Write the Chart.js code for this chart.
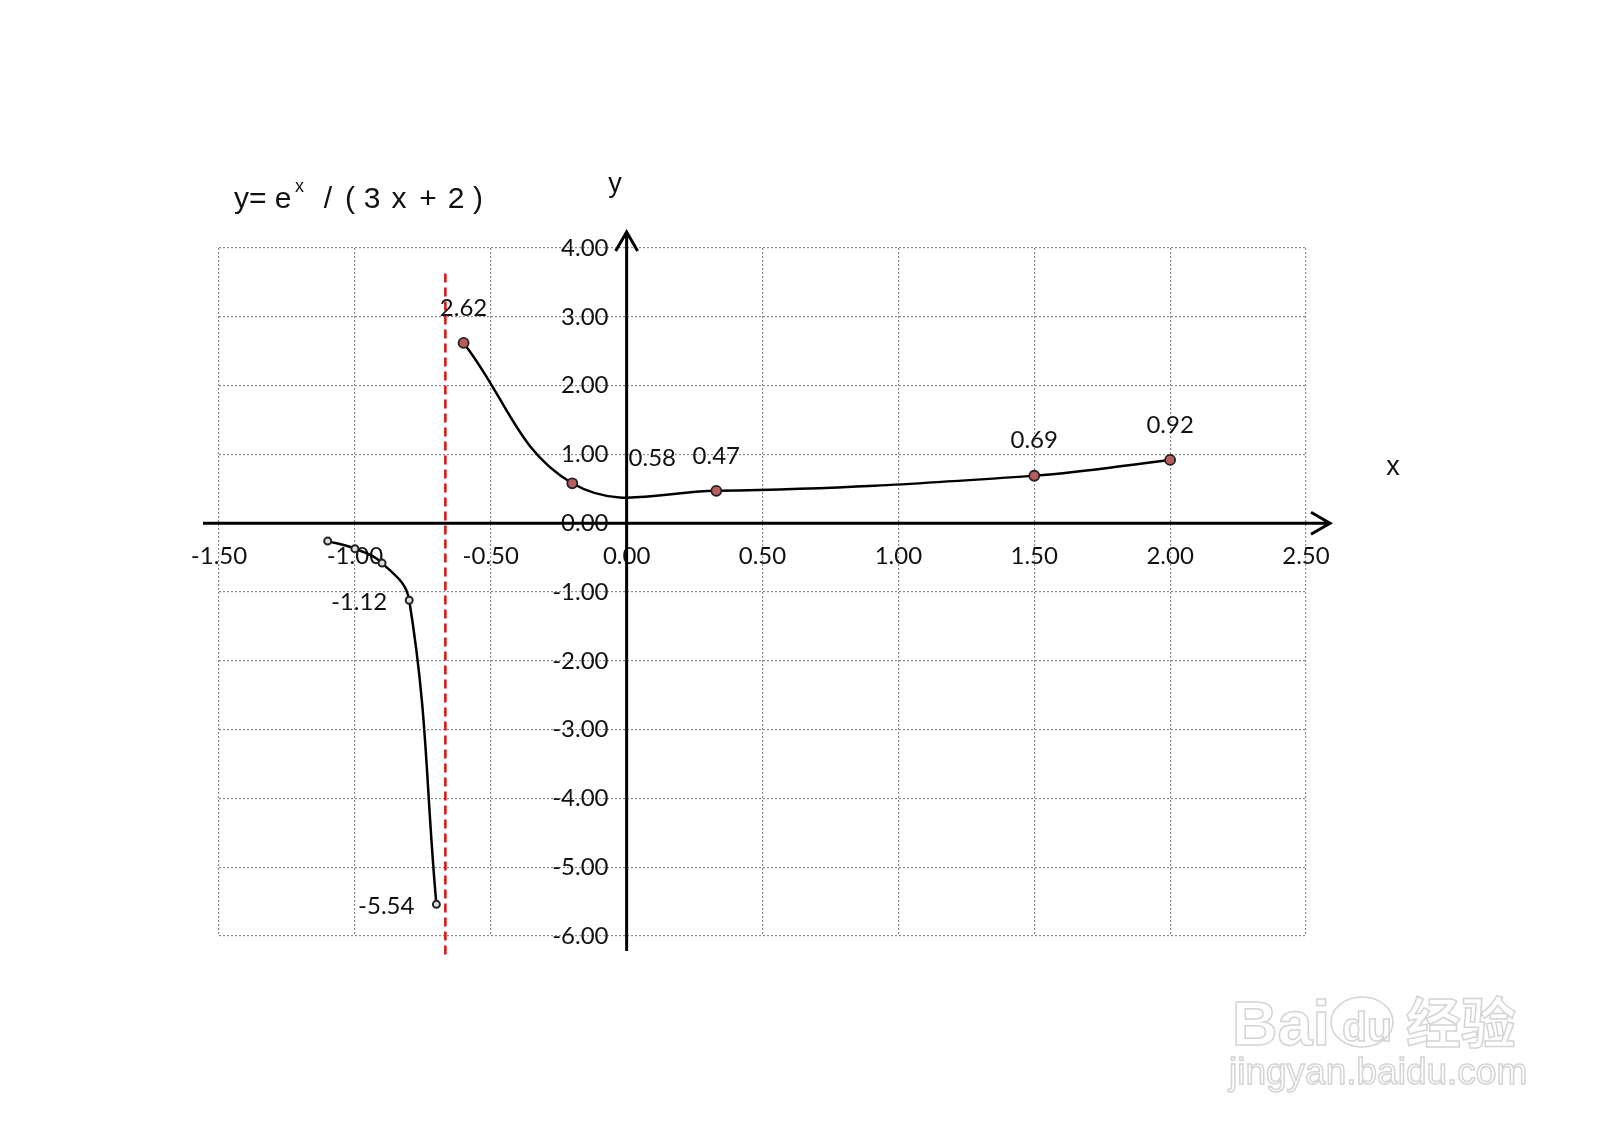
<!DOCTYPE html>
<html>
<head>
<meta charset="utf-8">
<script src="https://cdn.jsdelivr.net/npm/chart.js@4.4.0/dist/chart.umd.min.js"></script>
<style>
  html, body { margin: 0; padding: 0; background: #fff; }
  #wrap { width: 1600px; height: 1127px; }
</style>
</head>
<body>
<div id="wrap"><canvas id="chart"></canvas></div>
<script>
// Datos de la función y = e^x / (3x + 2)
const leftX = [-1.1, -1.0, -0.9, -0.8, -0.7];
const leftY = [-0.26, -0.37, -0.58, -1.12, -5.54];
const rightX = [-0.6, -0.2, 0.33, 1.5, 2.0];
const rightY = [2.62, 0.58, 0.47, 0.69, 0.92];
const asymptoteX = [-0.667, -0.667];
const asymptoteY = [3.63, -6.3];
const leftLabelIdx = [3, 4];
const rightLabelIdx = [0, 1, 2, 3, 4];
const xTicks = [-1.5, -1.0, -0.5, 0, 0.5, 1.0, 1.5, 2.0, 2.5];
const yTicks = [-6, -5, -4, -3, -2, -1, 0, 1, 2, 3, 4];

const toPoints = (xs, ys) => xs.map((x, i) => ({ x: x, y: ys[i] }));
const tickFont = { family: 'Lato', size: 24 };

// ejes con flechas, etiquetas y título
const decorPlugin = {
    id: 'decor',
    afterDatasetsDraw(chart) {
        const ctx = chart.ctx;
        const xs = chart.scales.x, ys = chart.scales.y;
        const x0 = xs.getPixelForValue(0), y0 = ys.getPixelForValue(0);
        const top = chart.chartArea.top, bottom = chart.chartArea.bottom;
        const left = chart.chartArea.left, right = chart.chartArea.right;
        ctx.save();
        ctx.strokeStyle = '#000';
        ctx.lineWidth = 3;
        ctx.beginPath();
        // eje x
        ctx.moveTo(left - 16, y0);
        ctx.lineTo(right + 24, y0);
        ctx.moveTo(right + 5, y0 - 11);
        ctx.lineTo(right + 24, y0);
        ctx.lineTo(right + 5, y0 + 11);
        // eje y
        ctx.moveTo(x0, bottom + 15);
        ctx.lineTo(x0, top - 16);
        ctx.moveTo(x0 - 11, top + 3);
        ctx.lineTo(x0, top - 16);
        ctx.lineTo(x0 + 11, top + 3);
        ctx.stroke();

        // etiquetas de los puntos
        ctx.fillStyle = '#111';
        ctx.font = '24px Lato';
        ctx.textBaseline = 'middle';
        const m0 = chart.getDatasetMeta(0).data;
        ctx.textAlign = 'right';
        leftLabelIdx.forEach(i => {
            const p = m0[i];
            ctx.fillText(leftY[i].toFixed(2), p.x - 22, p.y + 2);
        });
        const m1 = chart.getDatasetMeta(1).data;
        ctx.textAlign = 'center';
        rightLabelIdx.forEach(i => {
            const p = m1[i];
            if (i === 1) {
                ctx.fillText(rightY[i].toFixed(2), p.x + 80, p.y - 25);
            } else {
                ctx.fillText(rightY[i].toFixed(2), p.x, p.y - 35);
            }
        });

        // título y nombres de ejes
        ctx.font = '30px "Liberation Sans"';
        ctx.textAlign = 'left';
        ctx.textBaseline = 'alphabetic';
        ctx.fillText('y= e', 234, 208);
        ctx.font = '18px "Liberation Sans"';
        ctx.fillText('x', 295, 192);
        ctx.font = '30px "Liberation Sans"';
        ctx.textAlign = 'center';
        const parts = ['/', '(', '3', 'x', '+', '2', ')'];
        const partX = [328, 350, 372, 399, 428, 456, 478];
        parts.forEach((t, i) => ctx.fillText(t, partX[i], 208));
        ctx.font = '27px "Liberation Sans"';
        ctx.fillText('y', 615, 192);
        ctx.fillText('x', 1393, 475);

        // marca de agua
        ctx.strokeStyle = '#d4d4d4';
        ctx.lineWidth = 1.5;
        ctx.font = 'bold 63px "Liberation Sans"';
        ctx.textAlign = 'left';
        ctx.strokeText('Bai', 1232, 1045);
        ctx.font = 'bold 41px "Liberation Sans"';
        ctx.strokeText('du', 1342, 1041);
        ctx.font = 'bold 55px "Noto Sans CJK SC"';
        ctx.strokeText('经验', 1406, 1043);
        ctx.font = '37px "Liberation Sans"';
        ctx.strokeText('jingyan.baidu.com', 1229, 1084);
        ctx.beginPath();
        ctx.ellipse(1362, 1022, 31, 25, 0, 0, Math.PI * 2);
        ctx.stroke();
        ctx.restore();
    }
};

new Chart(document.getElementById('chart'), {
    type: 'scatter',
    data: {
        datasets: [
            {
                data: toPoints(leftX, leftY),
                showLine: true,
                borderColor: '#000',
                borderWidth: 2.5,
                tension: 0.4,
                pointRadius: 3.5,
                pointBorderWidth: 2,
                pointBackgroundColor: '#ddd',
                pointBorderColor: '#222'
            },
            {
                data: toPoints(rightX, rightY),
                showLine: true,
                borderColor: '#000',
                borderWidth: 2.5,
                tension: 0.4,
                pointRadius: 5,
                pointBorderWidth: 1.8,
                pointBackgroundColor: '#b85c5c',
                pointBorderColor: '#222'
            },
            {
                data: toPoints(asymptoteX, asymptoteY),
                showLine: true,
                clip: false,
                borderColor: '#e01010',
                borderWidth: 2.5,
                borderDash: [9, 5],
                pointRadius: 0
            }
        ]
    },
    options: {
        responsive: true,
        maintainAspectRatio: false,
        animation: false,
        layout: { padding: { left: 219, right: 294, top: 248, bottom: 191 } },
        plugins: {
            legend: { display: false },
            tooltip: { enabled: false }
        },
        scales: {
            x: {
                type: 'linear',
                position: { y: 0 },
                min: -1.5,
                max: 2.5,
                afterBuildTicks: axis => { axis.ticks = xTicks.map(v => ({ value: v })); },
                grid: { color: '#8a8a8a', lineWidth: 1.2, drawTicks: false },
                border: { display: false, dash: [2, 2] },
                ticks: {
                    font: tickFont,
                    color: '#111',
                    padding: 19,
                    maxRotation: 0,
                    callback: v => Number(v).toFixed(2)
                }
            },
            y: {
                type: 'linear',
                position: { x: 0 },
                min: -6,
                max: 4,
                afterBuildTicks: axis => { axis.ticks = yTicks.map(v => ({ value: v })); },
                grid: { color: '#8a8a8a', lineWidth: 1.2, drawTicks: false },
                border: { display: false, dash: [2, 2] },
                ticks: {
                    font: tickFont,
                    color: '#111',
                    padding: 18,
                    // espacio final para separar la etiqueta del eje
                    callback: v => Number(v).toFixed(2) + '\u2002 '
                }
            }
        }
    },
    plugins: [decorPlugin]
});
</script>
</body>
</html>
